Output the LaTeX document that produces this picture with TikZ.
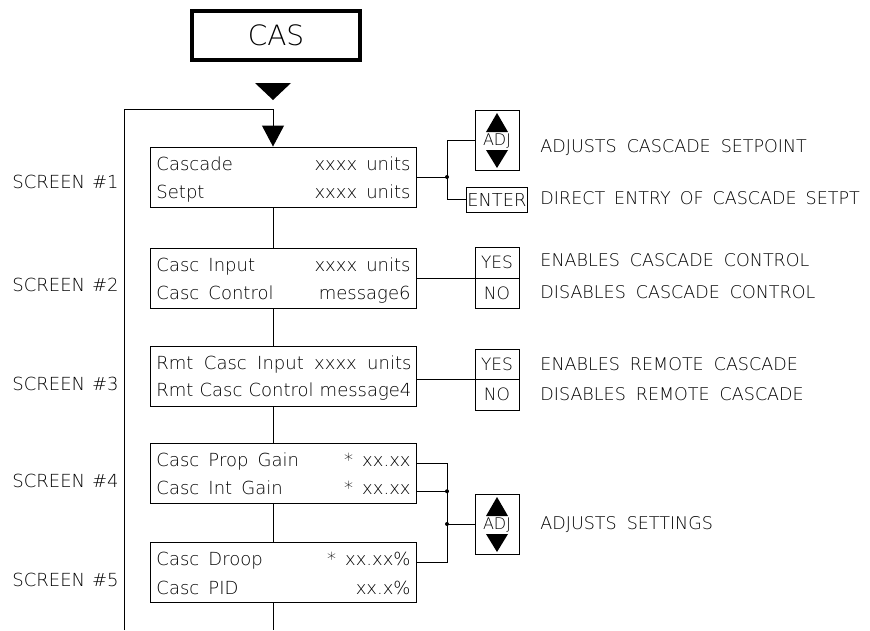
\documentclass[tikz,border=0pt]{standalone}
\usepackage{fontspec}
\setmainfont{DejaVu Sans ExtraLight}[WordSpace=1.6]
\newfontfamily\tightfont{DejaVu Sans ExtraLight}
\usetikzlibrary{arrows.meta}
\begin{document}
\begin{tikzpicture}[x=1pt,y=-1pt,line width=0.9pt,
  scr/.style={draw,minimum width=266pt,minimum height=60pt,inner sep=0pt},
  ltxt/.style={anchor=base west,inner sep=0pt,font=\fontsize{18}{20}\selectfont},
  rtxt/.style={anchor=base east,inner sep=0pt,font=\fontsize{18}{20}\selectfont},
  desc/.style={anchor=base west,inner sep=0pt,font=\fontsize{17.5}{20}\selectfont},
  scrlbl/.style={anchor=base west,inner sep=0pt,font=\fontsize{18}{20}\selectfont},
  keybox/.style={draw,inner sep=0pt,minimum width=44pt,font=\fontsize{17}{20}\selectfont},
  adjbox/.style={draw,inner sep=0pt,minimum width=44pt,minimum height=60pt},
  adjtxt/.style={inner sep=0pt,font=\fontsize{16}{18}\selectfont},
  jdot/.style={circle,fill,inner sep=0pt,minimum size=4pt},
  casbox/.style={draw,line width=3.5pt,minimum width=168pt,minimum height=49pt,inner sep=0pt,font=\fontsize{28}{30}\selectfont}
]
\useasboundingbox (0,0) rectangle (870,630);

% title
\node[casbox] (cas) at (276,35.5) {CAS};
\fill (255,83) -- (291,83) -- (273,100) -- cycle;

% screens
\node[scr] (s1) at (283.5,177) {};
\node[scr] (s2) at (283.5,278) {};
\node[scr] (s3) at (283.5,376) {};
\node[scr] (s4) at (283.5,473.5) {};
\node[scr] (s5) at (283.5,572.5) {};

\node[ltxt] (l1a) at (156,170) {Cascade};
\node[rtxt] (v1a) at (411,170) {xxxx units};
\node[ltxt] (l1b) at (156,198) {Setpt};
\node[rtxt] (v1b) at (411,198) {xxxx units};

\node[ltxt] (l2a) at (156,271.5) {Casc Input};
\node[rtxt] (v2a) at (411,271.5) {xxxx units};
\node[ltxt] (l2b) at (156,299) {Casc Control};
\node[rtxt] (v2b) at (411,299) {message6};

\node[ltxt] (l3a) at (156,369) {\makebox[255pt][s]{\tightfont Rmt Casc Input xxxx units}};
\node[ltxt] (l3b) at (156,396.5) {\makebox[255pt][s]{\tightfont Rmt Casc Control message4}};

\node[ltxt] (l4a) at (156,466.5) {Casc Prop Gain};
\node[rtxt] (v4a) at (411,466.5) {*\hspace{9pt}xx.xx};
\node[ltxt] (l4b) at (156,494) {Casc Int Gain};
\node[rtxt] (v4b) at (411,494) {*\hspace{9pt}xx.xx};

\node[ltxt] (l5a) at (156,565.5) {Casc Droop};
\node[rtxt] (v5a) at (411,565.5) {*\hspace{9pt}xx.xx\%};
\node[ltxt] (l5b) at (156,594) {Casc PID};
\node[rtxt] (v5b) at (411,594) {xx.x\%};

% screen labels
\node[scrlbl] (n1) at (12,188) {SCREEN\hspace{7pt}\#1};
\node[scrlbl] (n2) at (12,291.5) {SCREEN\hspace{7pt}\#2};
\node[scrlbl] (n3) at (12,390) {SCREEN\hspace{7pt}\#3};
\node[scrlbl] (n4) at (12,487.5) {SCREEN\hspace{7pt}\#4};
\node[scrlbl] (n5) at (12,586) {SCREEN\hspace{7pt}\#5};

% main flow
\coordinate (bot) at (273,630);
\coordinate (loopbot) at (124,630);
\coordinate (looptop) at (124,109);
\draw[-{Triangle[width=22pt,length=21pt]}] (loopbot) -- (looptop) -- (looptop -| bot) -- (s1.north -| bot);
\draw (s1.south -| bot) -- (s2.north -| bot);
\draw (s2.south -| bot) -- (s3.north -| bot);
\draw (s3.south -| bot) -- (s4.north -| bot);
\draw (s4.south -| bot) -- (s5.north -| bot);
\draw (s5.south -| bot) -- (bot);

% screen 1 keys
\node[adjbox] (adj1) at (497,140) {};
\fill (adj1.center) ++(-11,-8) -- ++(22,0) -- ++(-11,-19) -- cycle;
\fill (adj1.center) ++(-11,10) -- ++(22,0) -- ++(-11,18) -- cycle;
\node[adjtxt] (adj1t) at (497,141.5) {ADJ};
\node[draw,inner sep=0pt,minimum width=61pt,minimum height=25pt,anchor=west] (enter) at (466,199.5) {};
\node[anchor=base,inner sep=0pt,font=\fontsize{17.8}{20}\selectfont] (entert) at (enter.center |- 0,206) {ENTER};
\node[jdot] (j1) at (447,177) {};
\draw (s1.east) -- (j1.center);
\draw (j1.center) |- (adj1.west);
\draw (j1.center) |- (enter.west);
\node[desc] (d1a) at (540,152.5) {ADJUSTS\hspace{10pt}CASCADE\hspace{10pt}SETPOINT};
\node[desc] (d1b) at (540,204.5) {DIRECT\hspace{9pt}ENTRY\hspace{9pt}OF\hspace{9pt}CASCADE\hspace{9pt}SETPT};

% screen 2 keys
\node[keybox,minimum height=31pt] (yes2) at (497,262.5) {};
\node[keybox,minimum height=30pt] (no2) at (497,293) {};
\node[anchor=base,inner sep=0pt,font=\fontsize{17}{20}\selectfont] (yes2t) at (yes2.center |- 0,268) {YES};
\node[anchor=base,inner sep=0pt,font=\fontsize{17}{20}\selectfont] (no2t) at (no2.center |- 0,299) {NO};
\draw (s2.east) -- (s2.east -| yes2.west);
\node[desc] (d2a) at (540,266.7) {ENABLES\hspace{10pt}CASCADE\hspace{10pt}CONTROL};
\node[desc] (d2b) at (540,298.3) {DISABLES\hspace{10pt}CASCADE\hspace{10pt}CONTROL};

% screen 3 keys
\node[keybox,minimum height=30pt] (yes3) at (497,364) {};
\node[keybox,minimum height=31pt] (no3) at (497,394.5) {};
\node[anchor=base,inner sep=0pt,font=\fontsize{17}{20}\selectfont] (yes3t) at (yes3.center |- 0,370) {YES};
\node[anchor=base,inner sep=0pt,font=\fontsize{17}{20}\selectfont] (no3t) at (no3.center |- 0,400) {NO};
\draw (s3.east |- yes3.south west) -- (yes3.south west);
\node[desc] (d3a) at (540,370) {ENABLES\hspace{10pt}REMOTE\hspace{10pt}CASCADE};
\node[desc] (d3b) at (540,400) {DISABLES\hspace{10pt}REMOTE\hspace{10pt}CASCADE};

% screens 4/5 keys
\node[adjbox] (adj4) at (497,524) {};
\fill (adj4.center) ++(-11,-8) -- ++(22,0) -- ++(-11,-19) -- cycle;
\fill (adj4.center) ++(-11,10) -- ++(22,0) -- ++(-11,18) -- cycle;
\node[adjtxt] (adj4t) at (497,525.5) {ADJ};
\coordinate (bus) at (447,0);
\node[jdot] (j4) at (bus |- v4b.mid) {};
\node[jdot] (j5) at (bus |- adj4.west) {};
\draw (s4.east |- v4a.mid) -| (bus |- v5a.mid) -- (s5.east |- v5a.mid);
\draw (s4.east |- v4b.mid) -- (j4.center);
\draw (j5.center) -- (adj4.west);
\node[desc] (d4) at (540,529.3) {ADJUSTS\hspace{10pt}SETTINGS};
\end{tikzpicture}
\end{document}
